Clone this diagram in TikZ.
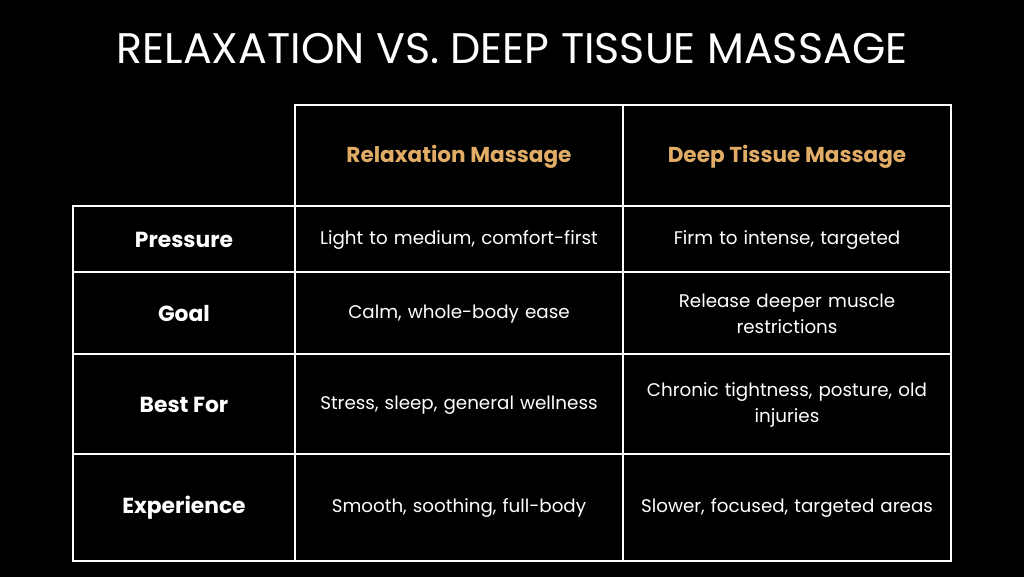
\documentclass[tikz,border=0pt]{standalone}
\usepackage{fontspec}
\setmainfont{Poppins}
\definecolor{gold}{RGB}{224,172,102}
\begin{document}
\begin{tikzpicture}[x=1pt,y=-1pt,
  grid/.style={draw=white,line width=1.6pt},
  hd/.style={text=gold,font=\fontsize{21.6}{26}\selectfont\bfseries},
  lab/.style={text=white,font=\fontsize{21.8}{26}\selectfont\bfseries},
  cell/.style={text=white,font=\fontsize{18.3}{26}\selectfont,align=center,text width=300pt}]
\fill[black] (0,0) rectangle (1024,577);
\useasboundingbox (0,0) rectangle (1024,577);
\node[text=white,font=\fontsize{42.8}{50}\selectfont] (title) at (512,49) {RELAXATION VS. DEEP TISSUE MASSAGE};
\draw[grid] (295,105) rectangle (951,206);
\draw[grid] (623,105) -- (623,561);
\draw[grid] (73,206) rectangle (951,561);
\draw[grid] (295,206) -- (295,561);
\foreach \y in {272,354,454} \draw[grid] (73,\y) -- (951,\y);
\node[hd] (h1) at (459,157) {Relaxation Massage};
\node[hd] (h2) at (787,157) {Deep Tissue Massage};
\node[lab] (r1) at (184,240) {Pressure};
\node[lab] (r2) at (184,314) {Goal};
\node[lab] (r3) at (184,405) {Best For};
\node[lab] (r4) at (184,508) {Experience};
\node[cell] (a1) at (459,240) {Light to medium, comfort-first};
\node[cell] (b1) at (787,240) {Firm to intense, targeted};
\node[cell] (a2) at (459,314) {Calm, whole-body ease};
\node[cell,text width=260pt] (b2) at (787,314) {Release deeper muscle\\restrictions};
\node[cell] (a3) at (459,405) {Stress, sleep, general wellness};
\node[cell] (b3) at (787,405) {Chronic tightness, posture, old\\injuries};
\node[cell] (a4) at (459,508) {Smooth, soothing, full-body};
\node[cell] (b4) at (787,508) {Slower, focused, targeted areas};
\end{tikzpicture}
\end{document}
